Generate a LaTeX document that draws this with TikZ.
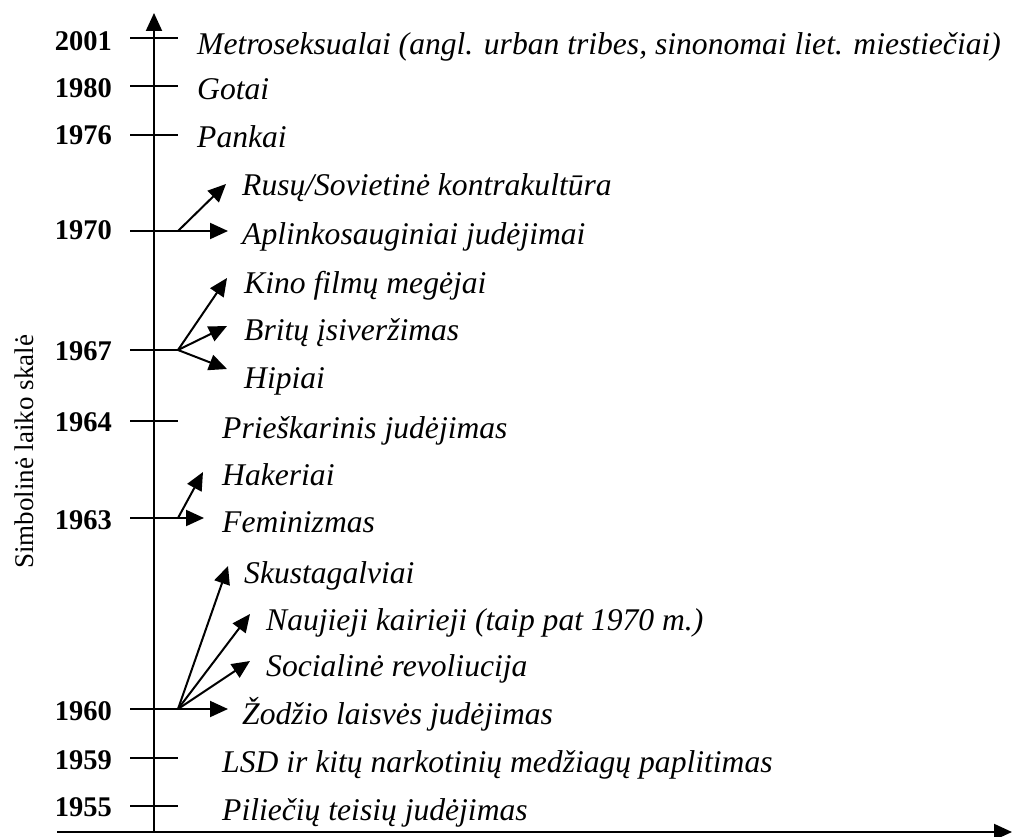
\documentclass[tikz,border=0pt]{standalone}
\usepackage{fontspec}
\setmainfont{Liberation Serif}
\usetikzlibrary{arrows.meta}
\begin{document}
\begin{tikzpicture}[x=1pt,y=-1pt,
  axisline/.style={line width=2pt},
  tipline/.style={line width=2pt,-{Triangle[length=18pt,width=16pt]}},
  yearlbl/.style={anchor=base east,inner sep=0pt,font=\fontsize{28.5}{32}\selectfont\bfseries},
  eventlbl/.style={anchor=base west,inner sep=0pt,font=\fontsize{31.6}{36}\selectfont\itshape},
]
\useasboundingbox (0,0) rectangle (1012,837);

% axes
\coordinate (ybot) at (154,832);
\coordinate (ytop) at (154,13);
\coordinate (xleft) at (57,832);
\coordinate (xright) at (1012,832);
\draw[tipline] (ybot) -- (ytop);
\draw[tipline] (xleft) -- (xright);

% axis caption
\node[rotate=90,inner sep=0pt,font=\fontsize{27}{32}\selectfont] (cap) at (24,452) {Simbolinė laiko skalė};

% year ticks: name / y position
\foreach \n/\y in {y2001/38,y1980/86,y1976/135,y1970/231,y1967/350,y1964/421,y1963/518,y1960/709,y1959/758,y1955/806}{
  \coordinate (\n-l) at (130,\y);
  \coordinate (\n) at (178,\y);
  \draw[axisline] (\n-l) -- (\n);
}

% year labels
\node[yearlbl] (t2001) at (112,51) {2001};
\node[yearlbl] (t1980) at (112,98) {1980};
\node[yearlbl] (t1976) at (112,145) {1976};
\node[yearlbl] (t1970) at (112,240) {1970};
\node[yearlbl] (t1967) at (112,360) {1967};
\node[yearlbl] (t1964) at (112,431) {1964};
\node[yearlbl] (t1963) at (112,529) {1963};
\node[yearlbl] (t1960) at (112,720) {1960};
\node[yearlbl] (t1959) at (112,769) {1959};
\node[yearlbl] (t1955) at (112,816) {1955};

% events
\node[eventlbl] (metro) at (197,55) {Metroseksualai (angl. urban tribes, sinonomai liet. miestiečiai)};
\node[eventlbl] (gotai) at (197,100) {Gotai};
\node[eventlbl] (pankai) at (197,148) {Pankai};
\node[eventlbl] (rusu) at (242,196) {Rusų/Sovietinė kontrakultūra};
\node[eventlbl] (aplink) at (242,244) {Aplinkosauginiai judėjimai};
\node[eventlbl] (kino) at (244,293) {Kino filmų megėjai};
\node[eventlbl] (britu) at (244,340) {Britų įsiveržimas};
\node[eventlbl] (hipiai) at (244,388) {Hipiai};
\node[eventlbl] (priesk) at (222,438) {Prieškarinis judėjimas};
\node[eventlbl] (hakeriai) at (222,485) {Hakeriai};
\node[eventlbl] (femin) at (222,532) {Feminizmas};
\node[eventlbl] (skust) at (244,583) {Skustagalviai};
\node[eventlbl] (naujieji) at (266,630) {Naujieji kairieji (taip pat 1970 m.)};
\node[eventlbl] (social) at (266,676) {Socialinė revoliucija};
\node[eventlbl] (zodzio) at (242,724) {Žodžio laisvės judėjimas};
\node[eventlbl] (lsd) at (222,772) {LSD ir kitų narkotinių medžiagų paplitimas};
\node[eventlbl] (pilieciu) at (222,820) {Piliečių teisių judėjimas};

% arrow heads ending in front of the labels
\coordinate (a-rusu) at (226,184);
\coordinate (a-aplink) at (228,231);
\coordinate (a-kino) at (227,278);
\coordinate (a-britu) at (227,326);
\coordinate (a-hipiai) at (227,369);
\coordinate (a-hakeriai) at (203,472);
\coordinate (a-femin) at (204,518);
\coordinate (a-skust) at (228,566);
\coordinate (a-naujieji) at (250,614);
\coordinate (a-social) at (250,661);
\coordinate (a-zodzio) at (228,709);

\draw[tipline] (y1970) -- (a-rusu);
\draw[tipline] (y1970) -- (a-aplink);
\draw[tipline] (y1967) -- (a-kino);
\draw[tipline] (y1967) -- (a-britu);
\draw[tipline] (y1967) -- (a-hipiai);
\draw[tipline] (y1963) -- (a-hakeriai);
\draw[tipline] (y1963) -- (a-femin);
\draw[tipline] (y1960) -- (a-skust);
\draw[tipline] (y1960) -- (a-naujieji);
\draw[tipline] (y1960) -- (a-social);
\draw[tipline] (y1960) -- (a-zodzio);
\end{tikzpicture}
\end{document}
